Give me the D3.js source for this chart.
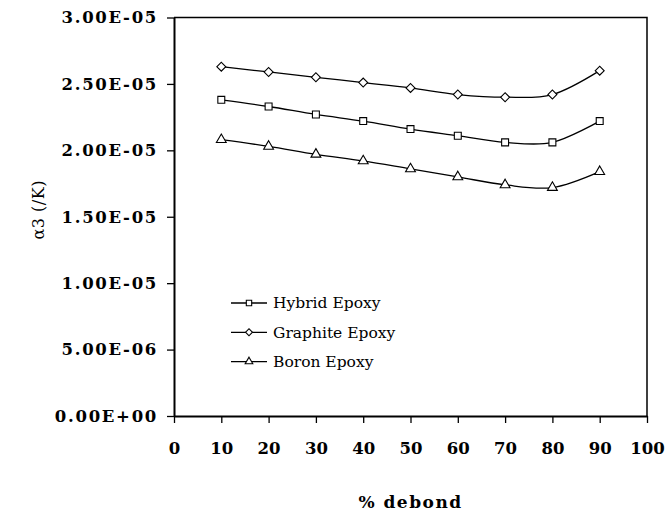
<!DOCTYPE html>
<html>
<head>
<meta charset="utf-8">
<script src="https://cdn.jsdelivr.net/npm/d3@7"></script>
<style>
  body { margin: 0; background: #fff; }
  svg { display: block; }
  text { font-family: "DejaVu Serif", serif; fill: #000; }
  .tick text { font-weight: bold; font-size: 16.5px; }
  .y-axis .tick text { letter-spacing: 1.7px; }
</style>
</head>
<body>
<div id="chart"></div>
<script>
// Chart values
var debond = [10, 20, 30, 40, 50, 60, 70, 80, 90];
var hybrid   = [2.38e-5, 2.33e-5, 2.27e-5, 2.22e-5, 2.16e-5, 2.11e-5, 2.06e-5, 2.06e-5, 2.22e-5];
var graphite = [2.63e-5, 2.59e-5, 2.55e-5, 2.51e-5, 2.47e-5, 2.42e-5, 2.40e-5, 2.42e-5, 2.60e-5];
var boron    = [2.08e-5, 2.03e-5, 1.97e-5, 1.92e-5, 1.86e-5, 1.80e-5, 1.74e-5, 1.72e-5, 1.84e-5];
var seriesNames = ["Hybrid Epoxy", "Graphite Epoxy", "Boron Epoxy"];
var xTicks = [0, 10, 20, 30, 40, 50, 60, 70, 80, 90, 100];
var yTicks = [0, 5e-6, 1e-5, 1.5e-5, 2e-5, 2.5e-5, 3e-5];
var yTickLabels = ["0.00E+00", "5.00E-06", "1.00E-05", "1.50E-05", "2.00E-05", "2.50E-05", "3.00E-05"];

var width = 670, height = 516;
var margin = {top: 17.5, right: 23, bottom: 100, left: 174};
var plotW = width - margin.left - margin.right;
var plotH = height - margin.top - margin.bottom;

var svg = d3.select('#chart')
    .append('svg')
    .attr('width', width)
    .attr('height', height);

var g = svg.append('g')
    .attr('transform', 'translate(' + margin.left + ',' + margin.top + ')');

// Scales
var x = d3.scaleLinear().domain([0, 100]).range([0, plotW]);
var y = d3.scaleLinear().domain([0, 3e-5]).range([plotH, 0]);

// Frame (top and right)
g.append('path')
    .attr('d', 'M0,0H' + plotW + 'V' + plotH)
    .attr('fill', 'none')
    .attr('stroke', '#000')
    .attr('stroke-width', 1.5);

// Axes
var xAxis = g.append('g')
    .attr('class', 'x-axis')
    .attr('transform', 'translate(0,' + plotH + ')')
    .call(d3.axisBottom(x).tickValues(xTicks).tickSize(7).tickPadding(19).tickSizeOuter(0));

var yAxis = g.append('g')
    .attr('class', 'y-axis')
    .call(d3.axisLeft(y).tickValues(yTicks).tickSize(7).tickPadding(9).tickSizeOuter(0)
        .tickFormat(function(d, i) { return yTickLabels[i]; }));

[xAxis, yAxis].forEach(function(a) {
    a.attr('font-family', null).attr('font-size', null);
    a.select('.domain').attr('stroke-width', 2);
    a.selectAll('.tick line').attr('stroke-width', 1.3);
    a.selectAll('.tick text').attr('fill', null);
});

// Axis titles
svg.append('text')
    .attr('x', margin.left + plotW / 2)
    .attr('y', 508)
    .attr('text-anchor', 'middle')
    .style('font-weight', 'bold')
    .style('font-size', '17px')
    .style('letter-spacing', '1.5px')
    .text('% debond');

svg.append('text')
    .attr('transform', 'translate(44,' + (margin.top + plotH / 2 - 7) + ') rotate(-90)')
    .attr('text-anchor', 'middle')
    .style('font-size', '16px')
    .style('letter-spacing', '0.5px')
    .text('α3 (/K)');

// Lines
var line = d3.line()
    .x(function(d) { return x(d[0]); })
    .y(function(d) { return y(d[1]); })
    .curve(d3.curveCardinal.tension(0));

// diamond drawn as a square turned 45 degrees
var symbols = [d3.symbolSquare, d3.symbolSquare, d3.symbolTriangle];
var symbolRotate = [0, 45, 0];
var symbolSizes = [48, 40, 42];
var allSeries = [hybrid, graphite, boron];

allSeries.forEach(function(vals, i) {
    var pts = debond.map(function(d, j) { return [d, vals[j]]; });
    g.append('path')
        .datum(pts)
        .attr('d', line)
        .attr('fill', 'none')
        .attr('stroke', '#000')
        .attr('stroke-width', 1.3);

    g.selectAll('.mark' + i)
        .data(pts)
        .enter()
        .append('path')
        .attr('transform', function(d) {
            return 'translate(' + x(d[0]) + ',' + y(d[1]) + ') rotate(' + symbolRotate[i] + ')';
        })
        .attr('d', d3.symbol().type(symbols[i]).size(symbolSizes[i]))
        .attr('fill', '#fff')
        .attr('stroke', '#000')
        .attr('stroke-width', 1.1);
});

// Legend
var legend = svg.append('g').attr('transform', 'translate(231,303)');
seriesNames.forEach(function(name, i) {
    var row = legend.append('g').attr('transform', 'translate(0,' + (i * 29.3) + ')');
    row.append('line')
        .attr('x1', 0).attr('x2', 36)
        .attr('stroke', '#000')
        .attr('stroke-width', 1.3);
    row.append('path')
        .attr('transform', 'translate(18,0) rotate(' + symbolRotate[i] + ')')
        .attr('d', d3.symbol().type(symbols[i]).size(symbolSizes[i] * 0.6))
        .attr('fill', '#fff')
        .attr('stroke', '#000')
        .attr('stroke-width', 1.1);
    row.append('text')
        .attr('x', 42)
        .attr('dy', '0.35em')
        .style('font-size', '15.5px')
        .text(name);
});
</script>
</body>
</html>
